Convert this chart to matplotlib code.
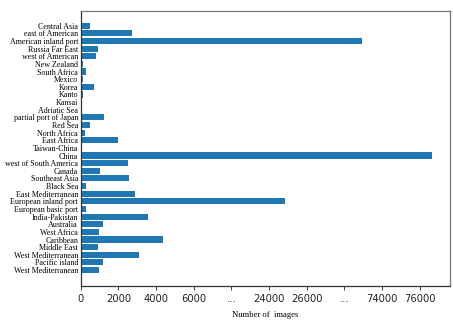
import numpy as np
import matplotlib
matplotlib.use("Agg")
import matplotlib.pyplot as plt

# categories from bottom to top
regions = [
    "West Mediterranean", "Pacific island", "West Mediterranean", "Middle East",
    "Caribbean", "West Africa", "Australia", "India-Pakistan",
    "European basic port", "European inland port", "East Mediterranean",
    "Black Sea", "Southeast Asia", "Canada", "west of South America", "China",
    "Taiwan-China", "East Africa", "North Africa", "Red Sea",
    "partial port of Japan", "Adriatic Sea", "Kansai", "Kanto", "Korea",
    "Mexico", "South Africa", "New Zealand", "west of American",
    "Russia Far East", "American inland port", "east of American", "Central Asia",
]
images = [
    960, 1170, 3080, 910,
    4370, 990, 1170, 3590,
    300, 24830, 2890,
    300, 2570, 1030, 2500, 76660,
    75, 1970, 215, 480,
    1260, 0, 0, 110, 690,
    145, 270, 125, 835,
    925, 60950, 2740, 480,
]

tick_values = [0, 2000, 4000, 6000, 15000, 24000, 26000, 50000, 74000, 76000]
tick_labels = ["0", "2000", "4000", "6000", "...", "24000", "26000", "...", "74000", "76000"]

# broken-axis scale: piecewise linear mapping
knots_v = np.array([0, 6000, 24000, 26000, 74000, 100000], dtype=float)
knots_p = np.array([0, 3, 5, 6, 8, 21], dtype=float)


def forward(v):
    return np.interp(v, knots_v, knots_p)


def inverse(p):
    return np.interp(p, knots_p, knots_v)


fig = plt.figure(figsize=(4.53, 3.27), dpi=100)
ax = fig.add_axes([0.178, 0.1263, 0.8154, 0.841])

ypos = np.arange(len(regions))
ax.barh(ypos, images, height=0.8, color="#1f77b4")
ax.set_xscale("function", functions=(forward, inverse))
ax.set_xlim(0, 77600)
ax.set_ylim(-2.05, len(regions) - 1 + 1.97)

ax.set_xticks(tick_values)
ax.set_xticklabels(tick_labels, fontsize=7.2, family="DejaVu Sans")
ax.minorticks_off()
ax.set_yticks(ypos)
ax.set_yticklabels(regions, fontsize=5.8, family="Liberation Serif")
ax.tick_params(axis="y", length=0, pad=1.8)
ax.tick_params(axis="x", length=3, width=0.6, pad=3, colors="#222222")

ax.set_xlabel("Number of  images", fontsize=6.2, family="Liberation Serif", labelpad=5)

ax.spines["left"].set_color("#333333")
ax.spines["bottom"].set_color("#333333")
ax.spines["top"].set_color("#777777")
ax.spines["right"].set_color("#777777")
for s in ax.spines.values():
    s.set_linewidth(0.9)

fig.savefig("out.png", dpi=100)
